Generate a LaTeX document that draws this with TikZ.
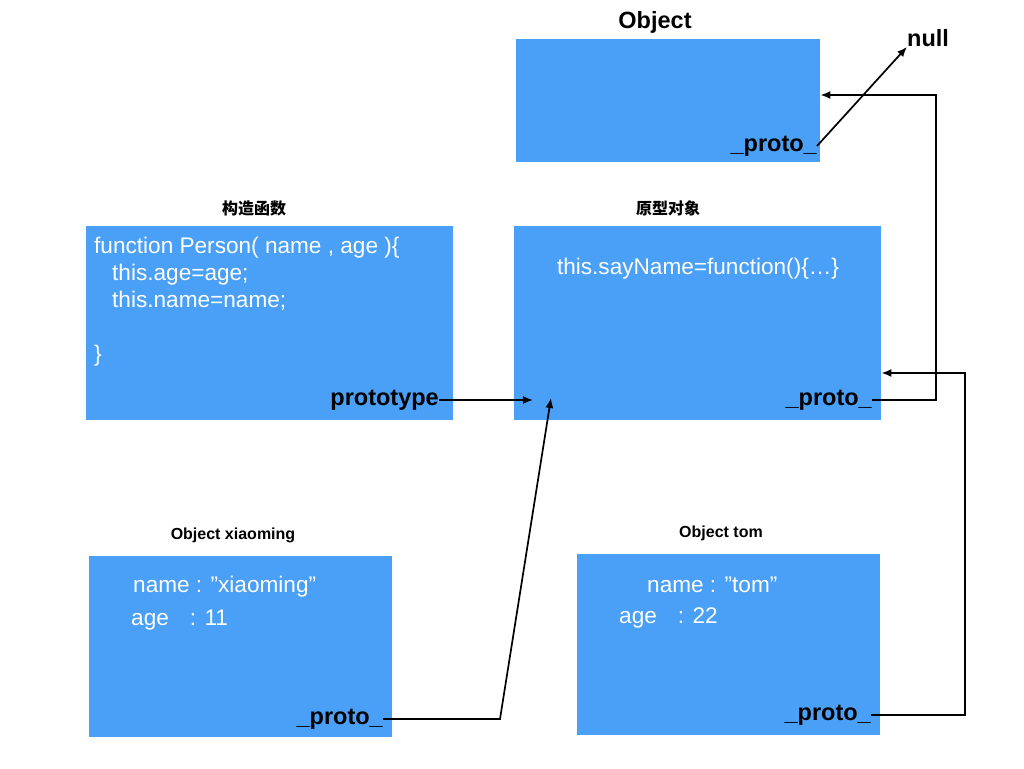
\documentclass[tikz,border=0pt]{standalone}
\usepackage{fontspec}
\setmainfont{Liberation Sans}
\newfontfamily\cjk{Noto Sans CJK SC}
\usetikzlibrary{arrows.meta}
\definecolor{boxblue}{RGB}{74,159,246}
\begin{document}
\begin{tikzpicture}[x=1pt,y=-1pt,
  box/.style={fill=boxblue, draw=none, anchor=north west, inner sep=0pt},
  code/.style={text=white, font=\fontsize{22.6}{27}\selectfont, inner sep=0pt},
  bold/.style={font=\fontsize{23.5}{27}\selectfont\bfseries, inner sep=0pt},
  title/.style={font=\fontsize{16}{19}\selectfont\bfseries, inner sep=0pt},
  link/.style={line width=1.7pt, -{Latex[length=10pt,width=8pt]}}]
\useasboundingbox[fill=white] (0,0) rectangle (1024,768);

% boxes
\node[box, minimum width=304pt, minimum height=123pt] (objbox) at (516,39) {};
\node[box, minimum width=367pt, minimum height=194pt] (consbox) at (86,226) {};
\node[box, minimum width=367pt, minimum height=194pt] (protobox) at (514,226) {};
\node[box, minimum width=303pt, minimum height=181pt] (xmbox) at (89,556) {};
\node[box, minimum width=303pt, minimum height=181pt] (tombox) at (577,554) {};

% titles
\node[bold] (objT) at (655,22) {Object};
\node[bold, anchor=west] (nullT) at (907,38) {null};
\node[title] (consT) at (254,208) {\cjk 构造函数};
\node[title] (protoT) at (668,208) {\cjk 原型对象};
\node[title] (xmT) at (233,535) {Object xiaoming};
\node[title] (tomT) at (721,533) {Object tom};

% texts
\node[code, anchor=north west, align=left] (consCode) at (94,237)
  {function Person( name , age )\{\\
   \hspace*{18pt}this.age=age;\\
   \hspace*{18pt}this.name=name;\\
   \mbox{}\\
   \}};
\node[code] (sayName) at (698,269) {this.sayName=function()\{…\}};
\node[code, anchor=west] (xmName) at (133,587) {name : ”xiaoming”};
\node[code, anchor=west] (xmAge) at (131,620) {age\hspace{21pt}: 11};
\node[code, anchor=west] (tomName) at (647,585) {name : ”tom”};
\node[code, anchor=west] (tomAge) at (619,618) {age\hspace{21pt}: 22};

% proto labels
\node[bold, anchor=east] (pobj) at (817,146) {\_proto\_};
\node[bold, anchor=east] (ptype) at (439,400) {prototype};
\node[bold, anchor=east] (pproto) at (872,400) {\_proto\_};
\node[bold, anchor=east] (pxm) at (383,719) {\_proto\_};
\node[bold, anchor=east] (ptom) at (871,715) {\_proto\_};

% helper coordinates
\coordinate (c1) at (936,95);
\coordinate (c2) at (965,373);
\coordinate (c3) at (500,719);
\coordinate (c4) at (551,398);
\coordinate (c5) at (533,400);

% connectors
\draw[link] (pobj.east) -- (nullT.south west);
\draw[link] (ptype.east) -- (c5);
\draw[link] (pproto.east) -| (c1) -- (objbox.east |- c1);
\draw[link] (ptom.east) -| (c2) -- (protobox.east |- c2);
\draw[link] (pxm.east) -- (c3) -- (c4);
\end{tikzpicture}
\end{document}
